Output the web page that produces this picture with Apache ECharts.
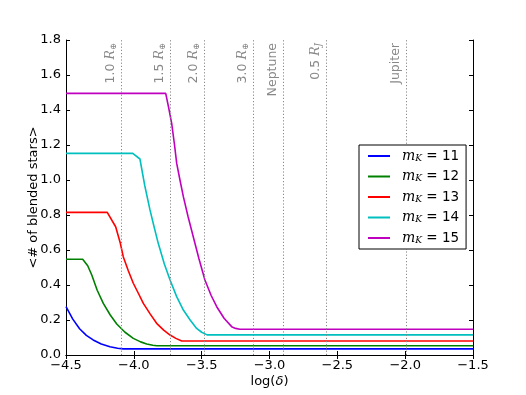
<!DOCTYPE html>
<html>
<head>
<meta charset="utf-8">
<script src="https://cdn.jsdelivr.net/npm/echarts@6/dist/echarts.min.js"></script>
<style>
    html, body { margin: 0; padding: 0; background: #fff; }
    #chart { width: 526px; height: 395px; }
</style>
</head>
<body>
<div id="chart"></div>
<script>
// magnitudes for each curve
var magnitudes = ['11', '12', '13', '14', '15'];
var colors = ['#0000ff', '#008000', '#ff0000', '#00bfbf', '#bf00bf'];

// log(delta) and <# of blended stars>
var x11 = [-4.5, -4.45, -4.4, -4.35, -4.3, -4.24, -4.176, -4.12, -4.078, -1.5];
var y11 = [0.276, 0.205, 0.15, 0.112, 0.086, 0.063, 0.047, 0.039, 0.035, 0.035];
var x12 = [-4.5, -4.377, -4.34, -4.31, -4.27, -4.225, -4.175, -4.126, -4.065, -4.004, -3.95, -3.905, -3.86, -3.83, -1.5];
var y12 = [0.547, 0.547, 0.51, 0.457, 0.37, 0.295, 0.23, 0.177, 0.13, 0.095, 0.075, 0.063, 0.056, 0.053, 0.053];
var x13 = [-4.5, -4.196, -4.134, -4.1, -4.078, -4.04, -4.004, -3.965, -3.93, -3.88, -3.832, -3.78, -3.733, -3.69, -3.647, -1.5];
var y13 = [0.815, 0.815, 0.733, 0.64, 0.562, 0.48, 0.41, 0.35, 0.295, 0.235, 0.181, 0.142, 0.114, 0.095, 0.08, 0.08];
var x14 = [-4.5, -4.008, -3.955, -3.92, -3.881, -3.85, -3.82, -3.775, -3.733, -3.685, -3.635, -3.585, -3.537, -3.5, -3.46, -1.5];
var y14 = [1.152, 1.152, 1.12, 0.97, 0.829, 0.73, 0.638, 0.52, 0.429, 0.335, 0.257, 0.2, 0.152, 0.13, 0.115, 0.115];
var x15 = [-4.5, -3.765, -3.745, -3.721, -3.7, -3.684, -3.66, -3.635, -3.6, -3.562, -3.52, -3.476, -3.43, -3.389, -3.335, -3.279, -3.25, -3.218, -1.5];
var y15 = [1.495, 1.495, 1.42, 1.324, 1.2, 1.095, 1.0, 0.905, 0.79, 0.676, 0.55, 0.429, 0.34, 0.276, 0.21, 0.162, 0.152, 0.147, 0.147];

// reference lines
var refX = [-4.09, -3.727, -3.48, -3.122, -2.903, -2.584, -1.99];
var refNum = ['1.0 ', '1.5 ', '2.0 ', '3.0 ', '', '0.5 ', ''];
var refSym = ['R', 'R', 'R', 'R', 'Neptune', 'R', 'Jupiter'];
var refSub = ['\u2295', '\u2295', '\u2295', '\u2295', '', 'J', ''];

var xs = [x11, x12, x13, x14, x15];
var ys = [y11, y12, y13, y14, y15];

function pairs(xv, yv) {
    var out = [];
    for (var i = 0; i < xv.length; i++) {
        out.push([xv[i], yv[i]]);
    }
    return out;
}

var font = 'DejaVu Sans';
var minus = function(v) {
    return v.toFixed(1).replace('-', '\u2212');
};

var refLines = [];
for (var i = 0; i < refX.length; i++) {
    var txt;
    if (refSub[i]) {
        txt = '{n|' + refNum[i] + '}{r|' + refSym[i] + '}{s|' + refSub[i] + '}';
    } else {
        txt = '{n|' + refSym[i] + '}';
    }
    refLines.push({ xAxis: refX[i], label: { formatter: txt } });
}

var series = [];
for (var k = 0; k < magnitudes.length; k++) {
    series.push({
        name: magnitudes[k],
        type: 'line',
        showSymbol: false,
        symbol: 'none',
        animation: false,
        data: pairs(xs[k], ys[k]),
        lineStyle: { color: colors[k], width: 1.6 },
        itemStyle: { color: colors[k] },
        z: 3
    });
}
series[0].markLine = {
    silent: true,
    symbol: ['none', 'none'],
    animation: false,
    lineStyle: { color: '#888', type: [1.2, 2], width: 1 },
    label: {
        show: true,
        position: 'insideEndTop',
        distance: 3,
        color: '#888',
        fontFamily: font,
        rich: {
            n: { fontSize: 12.5, color: '#888', fontFamily: font, lineHeight: 15 },
            r: { fontSize: 12.5, color: '#888', fontFamily: 'DejaVu Serif', fontStyle: 'italic', lineHeight: 15 },
            s: { fontSize: 8.5, color: '#888', fontFamily: 'DejaVu Serif', fontStyle: 'italic', lineHeight: 15, verticalAlign: 'bottom' }
        }
    },
    data: refLines
};

var chart = echarts.init(document.getElementById('chart'));
var axisCommon = {
    axisLine: { lineStyle: { color: '#000', width: 1 } },
    axisTick: { inside: true, length: 4, lineStyle: { color: '#000' } },
    splitLine: { show: false }
};
chart.setOption({
    animation: false,
    backgroundColor: '#fff',
    grid: { left: 66, right: 53, top: 40, bottom: 40 },
    legend: {
        data: magnitudes,
        orient: 'vertical',
        left: 359,
        top: 145,
        z: 10,
        icon: 'rect',
        itemWidth: 22,
        itemHeight: 2,
        itemGap: 6.5,
        padding: [4, 7, 4, 9],
        backgroundColor: '#fff',
        borderColor: '#000',
        borderWidth: 1,
        borderRadius: 0,
        formatter: function(name) {
            return '{m|m}{k|K}{t| = ' + name + '}';
        },
        textStyle: {
            fontFamily: font,
            rich: {
                m: { fontSize: 14, fontFamily: 'DejaVu Serif', fontStyle: 'italic', color: '#000', padding: [0, 0, 0, 7] },
                k: { fontSize: 9, fontFamily: 'DejaVu Serif', fontStyle: 'italic', color: '#000', verticalAlign: 'bottom' },
                t: { fontSize: 13.5, fontFamily: font, color: '#000' }
            }
        }
    },
    xAxis: [
        Object.assign({
            type: 'value',
            min: -4.5,
            max: -1.5,
            interval: 0.5,
            position: 'bottom',
            name: '{a|log(}{d|\u03b4}{a|)}',
            nameLocation: 'middle',
            nameGap: 20,
            nameMoveOverlap: false,
            nameTextStyle: {
                fontFamily: font, fontSize: 13, color: '#000',
                rich: {
                    a: { fontFamily: font, fontSize: 13, color: '#000' },
                    d: { fontFamily: font, fontSize: 13, color: '#000', fontStyle: 'italic' }
                }
            },
            axisLabel: { fontFamily: font, fontSize: 13, color: '#000', margin: 4, formatter: minus }
        }, axisCommon),
        Object.assign({
            type: 'value',
            min: -4.5,
            max: -1.5,
            interval: 0.5,
            position: 'top',
            axisLabel: { show: false }
        }, axisCommon)
    ],
    yAxis: [
        Object.assign({
            type: 'value',
            min: 0,
            max: 1.8,
            interval: 0.2,
            position: 'left',
            name: '<# of blended stars>',
            nameLocation: 'middle',
            nameGap: 26,
            nameMoveOverlap: false,
            nameTextStyle: { fontFamily: font, fontSize: 13, color: '#000' },
            axisLabel: { fontFamily: font, fontSize: 13, color: '#000', margin: 5, formatter: function(v) { return v.toFixed(1); } }
        }, axisCommon),
        Object.assign({
            type: 'value',
            min: 0,
            max: 1.8,
            interval: 0.2,
            position: 'right',
            axisLabel: { show: false }
        }, axisCommon)
    ],
    series: series
});
</script>
</body>
</html>
